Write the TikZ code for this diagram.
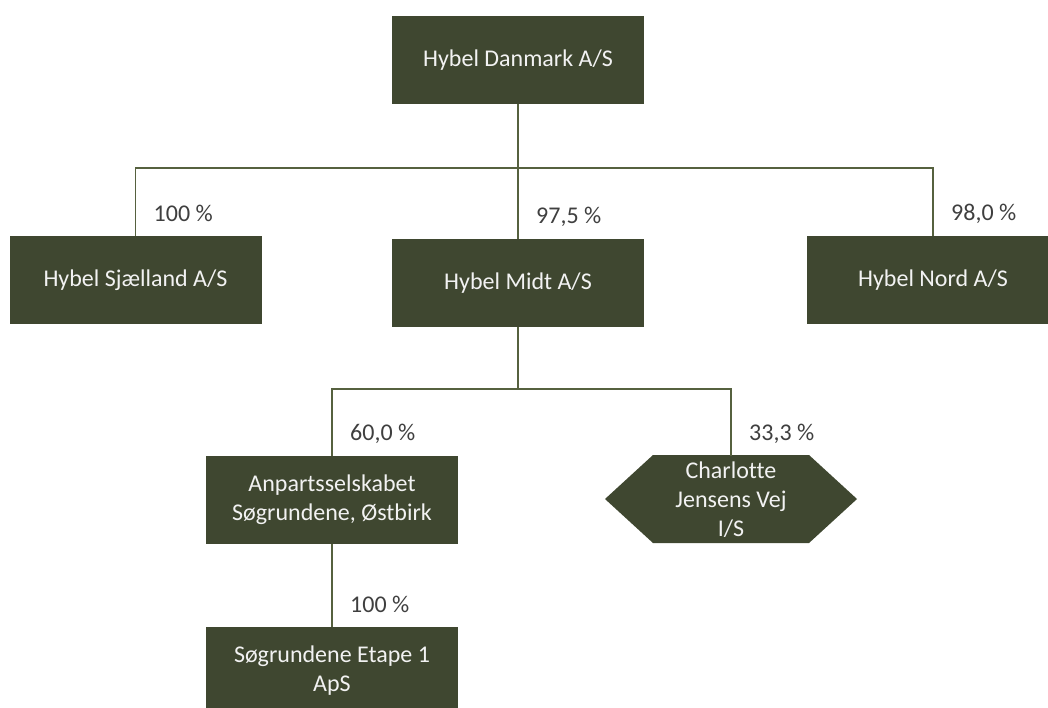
\documentclass[tikz,border=0pt]{standalone}
\usepackage{fontspec}
\setmainfont{Carlito}[Ligatures=CommonOff]
\usepackage{xcolor}
\usetikzlibrary{positioning}

\definecolor{boxgreen}{HTML}{3F4730}
\definecolor{linegreen}{HTML}{56613F}
\definecolor{pctgray}{HTML}{3F3F3F}

\tikzset{
  company/.style={fill=boxgreen, text=white!95!black, minimum width=252pt,
    minimum height=88pt, inner sep=0pt, align=center,
    font=\fontsize{24}{29}\selectfont},
  hexcompany/.style={company, fill=none},
  link/.style={draw=linegreen, line width=1.5pt},
  pct/.style={text=pctgray, inner sep=0pt, anchor=west,
    font=\fontsize{24}{29}\selectfont}
}

\begin{document}
\begin{tikzpicture}[x=1pt,y=-1pt]

% Page size
\useasboundingbox (0,0) rectangle (1048,707);

% Hexagon behind the joint venture
\fill[boxgreen] (605,499) -- (653,455) -- (809,455) -- (857,499)
  -- (809,543) -- (653,543) -- cycle;

% Companies
\node[company] (hdk) at (518,60) {Hybel Danmark A/S};
\node[company] (sjl) at (135.5,280) {Hybel Sjælland A/S};
\node[company] (midt) at (518,283) {Hybel Midt A/S};
\node[company] (nord) at (933,280) {Hybel Nord A/S};
\node[company] (anp) at (332,500) {Anpartsselskabet\\Søgrundene, Østbirk};
\node[hexcompany] (cjv) at (731,500) {Charlotte\\Jensens Vej\\I/S};
\node[company] (sog) at (332,671) {Søgrundene Etape 1\\ApS};

% Bus points
\coordinate (bus1) at (518,168);
\coordinate (bus2) at (518,389);

% Ownership lines
\draw[link] (hdk.south) -- (bus1);
\draw[link] (sjl.north) |- (bus1) -| (nord.north);
\draw[link] (bus1) -- (midt.north);
\draw[link] (midt.south) -- (bus2);
\draw[link] (anp.north) |- (bus2) -| (cjv.north);
\draw[link] (anp.south) -- (sog.north);

% Shares
\foreach \c/\p in {sjl/100, midt/{97,5}, nord/{98,0}, anp/{60,0}, cjv/{33,3}, sog/100} {
    \node[pct] (pct-\c) at ([shift={(18,-22)}]\c.north) {\p\ \%};
}

\end{tikzpicture}
\end{document}
